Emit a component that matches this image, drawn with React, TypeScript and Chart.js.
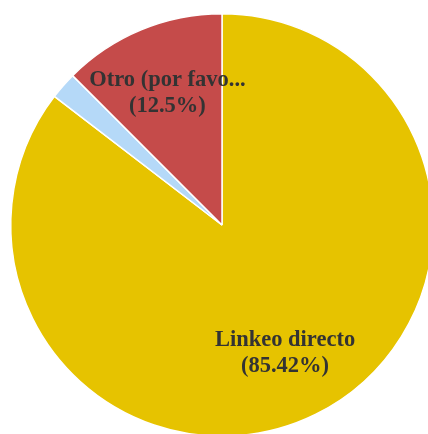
import React, { useEffect, useRef } from "react";
import { Chart, registerables } from "chart.js";

Chart.register(...registerables);

const categories = ["Linkeo directo", "Buscador", "Otro (por favor especifique)"];
const shares = [85.42, 2.08, 12.5];
const colors = ["#E6C300", "#B5D9F8", "#C54B4A"];

const labelPlugin = {
  id: "sliceLabels",
  afterDatasetsDraw(chart: any) {
    const ctx = chart.ctx;
    const meta = chart.getDatasetMeta(0);
    ctx.save();
    ctx.font = "bold 22.5px 'Liberation Serif', 'DejaVu Serif', serif";
    ctx.fillStyle = "#333333";
    ctx.textAlign = "center";
    ctx.textBaseline = "middle";
    meta.data.forEach((arc: any, i: number) => {
      const v = shares[i];
      if (v < 5) return;
      const p = arc.getProps(["startAngle", "endAngle", "outerRadius", "x", "y"], true);
      const mid = (p.startAngle + p.endAngle) / 2;
      const r = p.outerRadius * 0.675;
      const cx = p.x + Math.cos(mid) * r;
      const cy = p.y + Math.sin(mid) * r;
      let name = categories[i];
      if (name.length > 14) name = name.slice(0, 14) + "...";
      ctx.fillText(name, cx, cy - 13);
      ctx.fillText("(" + v + "%)", cx, cy + 13);
    });
    ctx.restore();
  },
};

export default function App() {
  const ref = useRef<HTMLCanvasElement>(null);
  useEffect(() => {
    document.body.style.overflow = "hidden";
    const chart = new Chart(ref.current!, {
      type: "pie",
      data: {
        labels: categories,
        datasets: [
          {
            data: shares,
            backgroundColor: colors,
            borderColor: "#ffffff",
            borderWidth: 1.5,
          },
        ],
      },
      options: {
        animation: false,
        responsive: false,
        maintainAspectRatio: false,
        layout: { padding: 10 },
        plugins: {
          legend: { display: false },
          tooltip: { enabled: false },
        },
      },
      plugins: [labelPlugin],
    });
    return () => chart.destroy();
  }, []);
  return (
    <div style={{ position: "fixed", left: 0, top: 0, width: 428, height: 434, overflow: "hidden", background: "#fff" }}>
      <canvas ref={ref} width={444} height={450} style={{ display: "block" }} />
    </div>
  );
}
